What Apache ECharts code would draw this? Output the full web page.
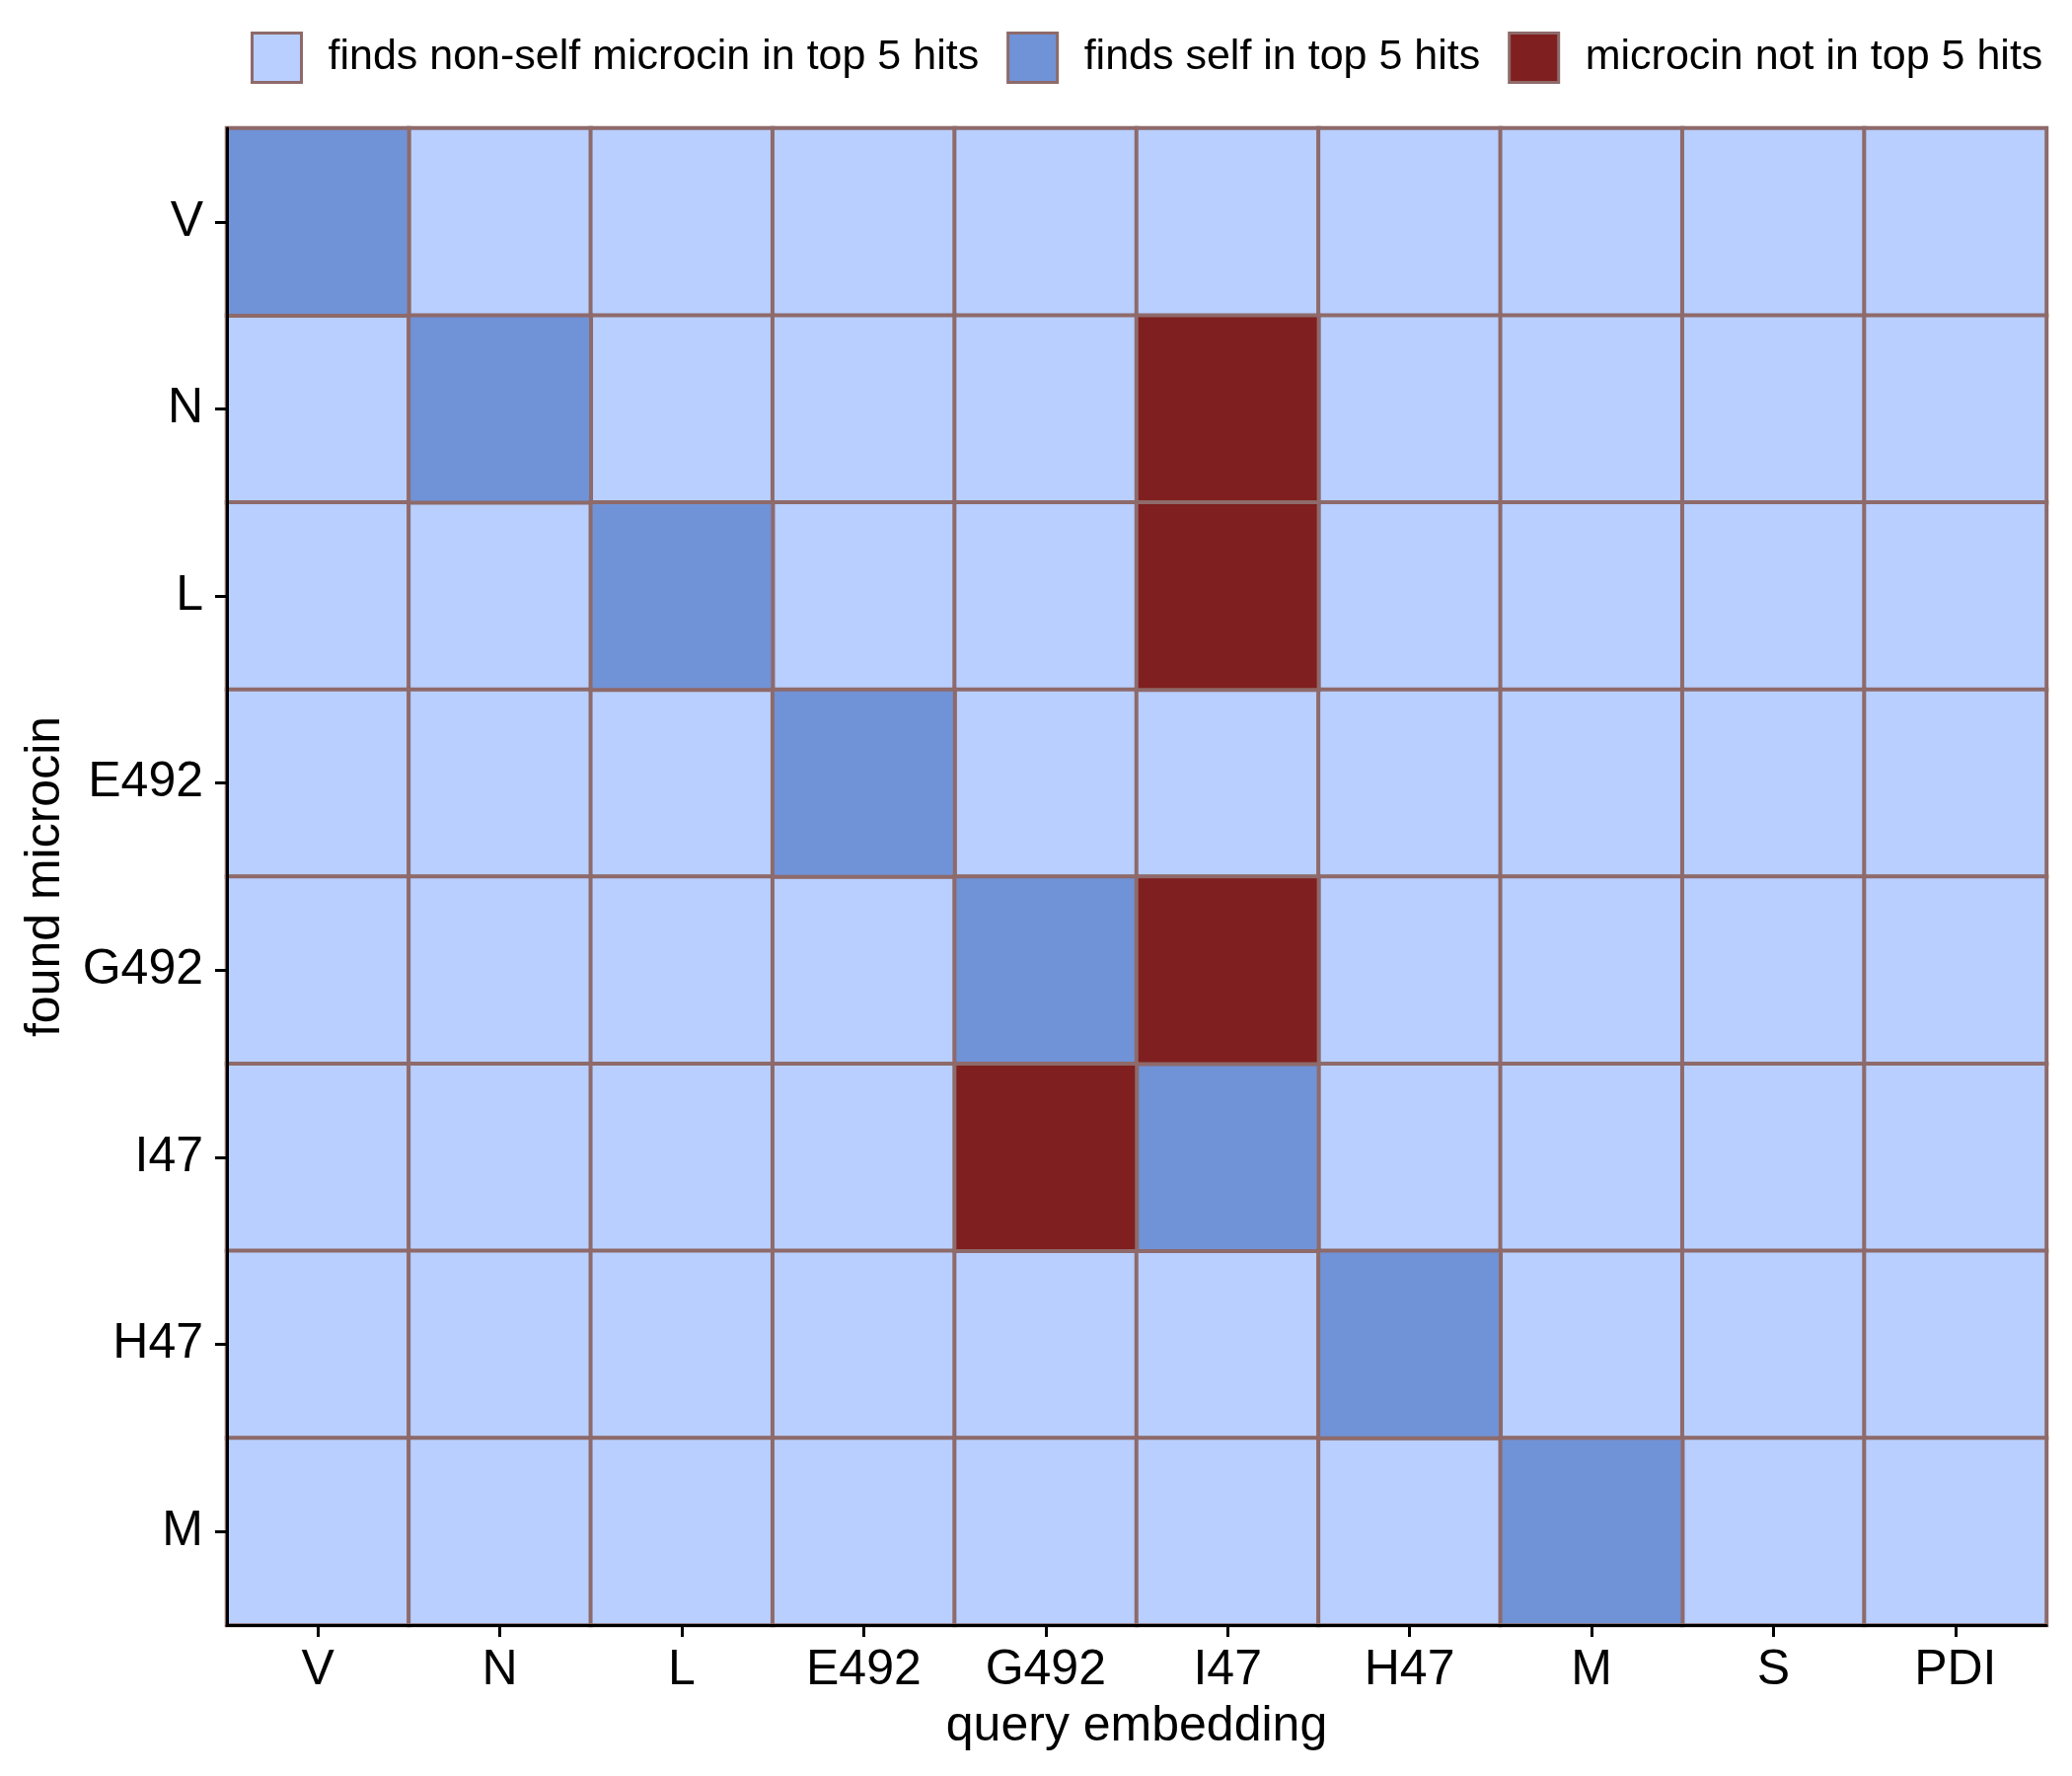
<!DOCTYPE html>
<html>
<head>
<meta charset="utf-8">
<script src="https://cdn.jsdelivr.net/npm/echarts@6/dist/echarts.min.js"></script>
<style>
  html, body { margin: 0; padding: 0; background: #fff; }
  #chart { width: 2100px; height: 1800px; }
</style>
</head>
<body>
<div id="chart"></div>
<script>
// query embeddings (x) and found microcins (y)
var queries = ['V', 'N', 'L', 'E492', 'G492', 'I47', 'H47', 'M', 'S', 'PDI'];
var found = ['V', 'N', 'L', 'E492', 'G492', 'I47', 'H47', 'M'];

// 0 = non-self in top 5, 1 = self in top 5, 2 = not in top 5
var rowV    = [1, 0, 0, 0, 0, 0, 0, 0, 0, 0];
var rowN    = [0, 1, 0, 0, 0, 2, 0, 0, 0, 0];
var rowL    = [0, 0, 1, 0, 0, 2, 0, 0, 0, 0];
var rowE492 = [0, 0, 0, 1, 0, 0, 0, 0, 0, 0];
var rowG492 = [0, 0, 0, 0, 1, 2, 0, 0, 0, 0];
var rowI47  = [0, 0, 0, 0, 2, 1, 0, 0, 0, 0];
var rowH47  = [0, 0, 0, 0, 0, 0, 1, 0, 0, 0];
var rowM    = [0, 0, 0, 0, 0, 0, 0, 1, 0, 0];
var statusRows = [rowV, rowN, rowL, rowE492, rowG492, rowI47, rowH47, rowM];

var statusNames = ['finds non-self microcin in top 5 hits', 'finds self in top 5 hits', 'microcin not in top 5 hits'];
var statusColors = ['#B8CFFF', '#7092D6', '#801F1F'];
var borderCol = '#8E6A6A';
var fontFam = '"Liberation Sans", Arial, sans-serif';

// split cells per status so each one gets its own series / legend entry
function cellsFor(code) {
  var out = [];
  for (var r = 0; r < statusRows.length; r++) {
    for (var c = 0; c < queries.length; c++) {
      if (statusRows[r][c] === code) out.push([c, r, code]);
    }
  }
  return out;
}

var series = [];
for (var k = 0; k < statusNames.length; k++) {
  series.push({
    name: statusNames[k],
    type: 'heatmap',
    data: cellsFor(k),
    z: 1,
    itemStyle: { color: statusColors[k], borderColor: borderCol, borderWidth: 4 },
    emphasis: { disabled: true }
  });
}

function axisBase(extra) {
  var a = {
    type: 'category',
    nameLocation: 'middle',
    z: 10,
    nameTextStyle: { fontFamily: fontFam, fontSize: 50, color: '#000' },
    axisLine: { show: true, lineStyle: { color: '#000', width: 3 } },
    axisTick: { show: true, alignWithLabel: true, length: 12, lineStyle: { color: '#000', width: 3 } },
    splitLine: { show: false }
  };
  for (var key in extra) a[key] = extra[key];
  return a;
}

var chart = echarts.init(document.getElementById('chart'));
chart.setOption({
  backgroundColor: '#fff',
  animation: false,
  color: statusColors,
  legend: {
    left: 249,
    top: 27,
    itemWidth: 50,
    itemHeight: 50,
    itemGap: 28,
    icon: 'rect',
    itemStyle: { borderColor: borderCol, borderWidth: 3 },
    textStyle: { fontFamily: fontFam, fontSize: 43, color: '#000', padding: [0, 0, 0, 22] },
    data: statusNames
  },
  grid: { left: 230, right: 26, top: 130, bottom: 153 },
  xAxis: axisBase({
    data: queries,
    name: 'query embedding',
    nameGap: 78,
    axisLabel: { fontFamily: fontFam, fontSize: 50, color: '#000', margin: 21 }
  }),
  yAxis: axisBase({
    data: found,
    inverse: true,
    name: 'found microcin',
    nameGap: 159,
    axisLabel: { fontFamily: fontFam, fontSize: 50, color: '#000', margin: 24 }
  }),
  series: series
});
</script>
</body>
</html>
